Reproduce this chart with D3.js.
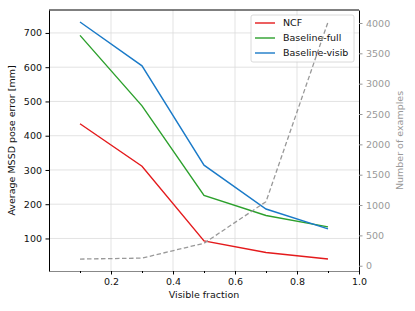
<!DOCTYPE html>
<html>
<head>
    <script src="https://d3js.org/d3.v7.min.js"></script>
    <style>
        body { margin: 0; background: #fff; }
        text { font-family: "DejaVu Sans", sans-serif; }
    </style>
</head>
<body>
<svg id="chart"></svg>
<script>
    // data
    const fractions = [0.1, 0.3, 0.5, 0.7, 0.9];
    const ncf = [435, 311, 93, 59, 40];
    const baselineFull = [693, 487, 226, 167, 134];
    const baselineVisib = [732, 604, 314, 186, 128];
    const numExamples = [110, 125, 370, 1055, 4015];
    const xTicks = [0.2, 0.4, 0.6, 0.8, 1.0];
    const leftTicks = [100, 200, 300, 400, 500, 600, 700];
    const rightTicks = [0, 500, 1000, 1500, 2000, 2500, 3000, 3500, 4000];

    const series = [
        { name: "NCF", values: ncf, color: "#e41a1c" },
        { name: "Baseline-full", values: baselineFull, color: "#2ca02c" },
        { name: "Baseline-visib", values: baselineVisib, color: "#1a7ac8" }
    ];

    const W = 415, H = 311;
    const pLeft = 49, pRight = 359, pTop = 10, pBottom = 271;

    const svg = d3.select("#chart").attr("width", W).attr("height", H);

    const x = d3.scaleLinear().domain([0, 1]).range([pLeft, pRight]);
    const y = d3.scaleLinear().domain([5, 767]).range([pBottom, pTop]);
    const y2 = d3.scaleLinear().domain([-87, 4214]).range([pBottom, pTop]);

    // grid
    svg.append("g").selectAll("line").data(xTicks.slice(0, 4)).enter().append("line")
        .attr("x1", d => x(d)).attr("x2", d => x(d))
        .attr("y1", pTop).attr("y2", pBottom)
        .attr("stroke", "#dcdcdc").attr("stroke-width", 0.8);
    svg.append("g").selectAll("line").data(leftTicks).enter().append("line")
        .attr("x1", pLeft).attr("x2", pRight)
        .attr("y1", d => y(d)).attr("y2", d => y(d))
        .attr("stroke", "#dcdcdc").attr("stroke-width", 0.8);

    const line = d3.line().x((d, i) => x(fractions[i])).y(d => y(d));
    series.forEach(s => {
        svg.append("path").datum(s.values)
            .attr("d", line)
            .attr("fill", "none")
            .attr("stroke", s.color)
            .attr("stroke-width", 1.4);
    });

    // legend
    const lg = svg.append("g").attr("transform", "translate(251,15)");
    lg.append("rect").attr("width", 103).attr("height", 47).attr("rx", 2)
        .attr("fill", "white").attr("fill-opacity", 0.8)
        .attr("stroke", "#d0d0d0").attr("stroke-width", 0.8);
    series.forEach((s, i) => {
        lg.append("line").attr("x1", 4).attr("x2", 24)
            .attr("y1", 8 + i * 15).attr("y2", 8 + i * 15)
            .attr("stroke", s.color).attr("stroke-width", 1.4);
        lg.append("text").attr("x", 32).attr("y", 8 + i * 15)
            .attr("dy", "0.35em").attr("font-size", 9.5).attr("fill", "#111")
            .text(s.name);
    });

    // dashed count line on twin axis
    const line2 = d3.line().x((d, i) => x(fractions[i])).y(d => y2(d));
    svg.append("path").datum(numExamples)
        .attr("d", line2)
        .attr("fill", "none")
        .attr("stroke", "#999")
        .attr("stroke-width", 1.3)
        .attr("stroke-dasharray", "4.5,2.5");

    // axes
    const xAxis = svg.append("g").attr("transform", `translate(0,${pBottom})`)
        .call(d3.axisBottom(x).tickValues(xTicks).tickSize(3.5).tickSizeOuter(0)
            .tickPadding(3.5).tickFormat(d3.format(".1f")));
    svg.append("g").attr("transform", `translate(0,${pBottom})`)
        .call(d3.axisBottom(x).tickValues(fractions).tickSize(2).tickSizeOuter(0).tickFormat(""))
        .select(".domain").remove();
    const yAxis = svg.append("g").attr("transform", `translate(${pLeft},0)`)
        .call(d3.axisLeft(y).tickValues(leftTicks).tickSize(3.5).tickSizeOuter(0).tickPadding(3.5));
    const y2Axis = svg.append("g").attr("transform", `translate(${pRight},0)`)
        .call(d3.axisRight(y2).tickValues(rightTicks).tickSize(3.5).tickSizeOuter(0)
            .tickPadding(3.5).tickFormat(d3.format("d")));

    [xAxis, yAxis, y2Axis].forEach(g => {
        g.selectAll("text").attr("font-size", 9.5).attr("font-family", "DejaVu Sans, sans-serif");
        g.select(".domain").attr("stroke-width", 1);
    });
    xAxis.selectAll("text").attr("fill", "#111");
    yAxis.selectAll("text").attr("fill", "#111");
    y2Axis.selectAll("text").attr("fill", "#999");
    y2Axis.selectAll(".tick line").attr("stroke", "#999");
    xAxis.select(".domain").attr("stroke", "#888");

    // top spine
    svg.append("line").attr("x1", pLeft).attr("x2", pRight).attr("y1", pTop).attr("y2", pTop)
        .attr("stroke", "#000").attr("stroke-width", 1);

    // labels
    svg.append("text").attr("x", x(0.5)).attr("y", 298)
        .attr("text-anchor", "middle").attr("font-size", 9.5).attr("fill", "#111")
        .text("Visible fraction");
    svg.append("text").attr("transform", `translate(15,${(pTop + pBottom) / 2}) rotate(-90)`)
        .attr("text-anchor", "middle").attr("font-size", 9.5).attr("fill", "#111")
        .text("Average MSSD pose error [mm]");
    svg.append("text").attr("transform", `translate(403,${(pTop + pBottom) / 2}) rotate(-90)`)
        .attr("text-anchor", "middle").attr("font-size", 9.5).attr("fill", "#999")
        .text("Number of examples");
</script>
</body>
</html>
